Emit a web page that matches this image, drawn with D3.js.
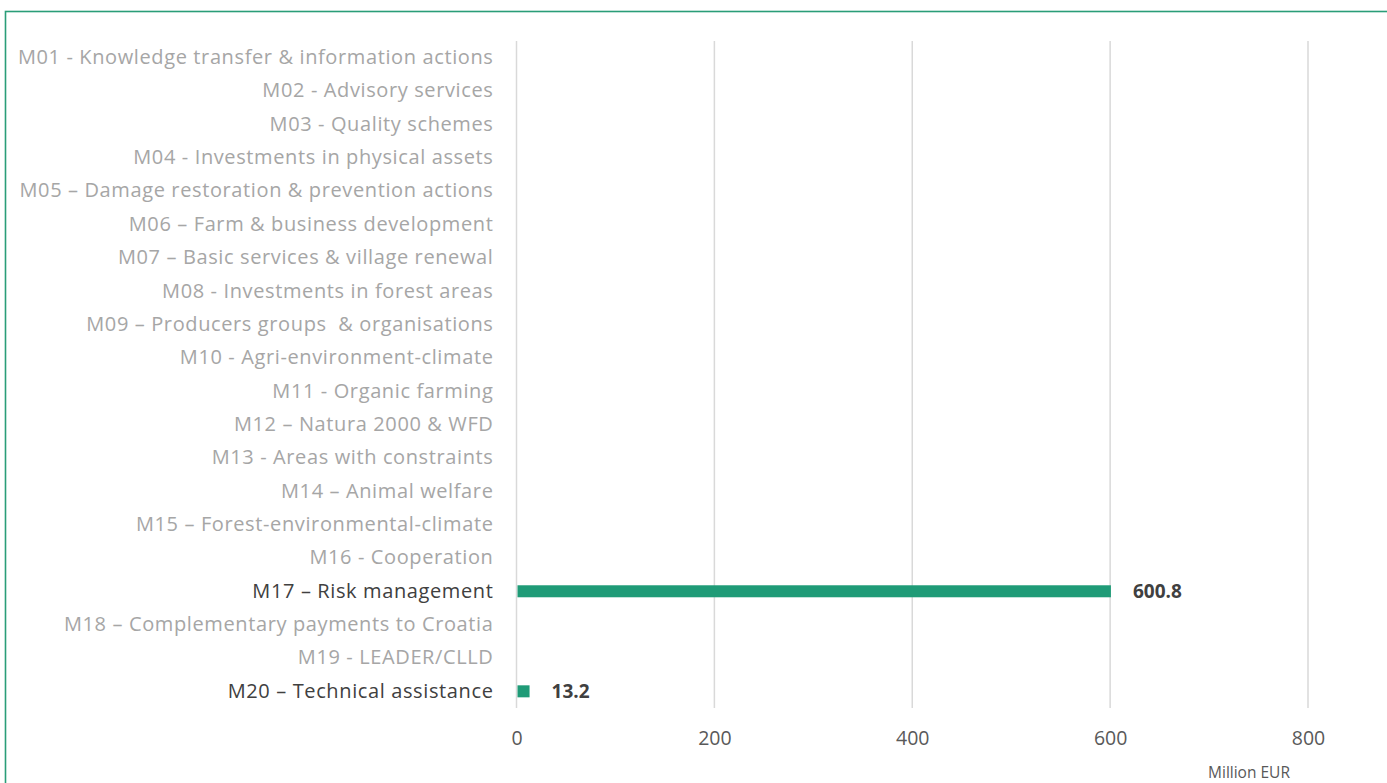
<!DOCTYPE html>
<html><head><meta charset="utf-8">
<script src="https://cdn.jsdelivr.net/npm/d3@7"></script>
<style>body{margin:0;background:#fff;}svg{display:block;}text{white-space:pre;}</style>
</head><body>
<script>
const categories = [
  "M01 - Knowledge transfer & information actions",
  "M02 - Advisory services",
  "M03 - Quality schemes",
  "M04 - Investments in physical assets",
  "M05 – Damage restoration & prevention actions",
  "M06 – Farm & business development",
  "M07 – Basic services & village renewal",
  "M08 - Investments in forest areas",
  "M09 – Producers groups  & organisations",
  "M10 - Agri-environment-climate",
  "M11 - Organic farming",
  "M12 – Natura 2000 & WFD",
  "M13 - Areas with constraints",
  "M14 – Animal welfare",
  "M15 – Forest-environmental-climate",
  "M16 - Cooperation",
  "M17 – Risk management",
  "M18 – Complementary payments to Croatia",
  "M19 - LEADER/CLLD",
  "M20 – Technical assistance"
];
const values = [0,0,0,0,0,0,0,0,0,0,0,0,0,0,0,0,600.8,0,0,13.2];
const xTicks = [0,200,400,600,800];
const axisTitle = "Million EUR";

const W = 1387, H = 783;
const svg = d3.select("body").append("svg").attr("width", W).attr("height", H);
const font = "'Open Sans', sans-serif";

svg.append("rect").attr("x",5.5).attr("y",11.5).attr("width",W+20).attr("height",H+20)
  .attr("fill","none").attr("stroke","#2a9d78").attr("stroke-width",1.6);

const x = d3.scaleLinear().domain([0,800]).range([516.5,1308]);
const y = d3.scaleBand().domain(categories).range([41,708]).paddingInner(0.64).paddingOuter(0.32);

// grid
svg.append("g").selectAll("line").data(xTicks).join("line")
  .attr("x1",d=>x(d)).attr("x2",d=>x(d)).attr("y1",41).attr("y2",708)
  .attr("stroke","#d9d9d9").attr("stroke-width",1.5);

// x axis labels
const xa = svg.append("g").attr("transform","translate(0,708)")
  .call(d3.axisBottom(x).tickValues(xTicks).tickSize(0).tickPadding(23));
xa.select(".domain").remove();
xa.selectAll("text").attr("font-family",font).attr("font-size",19.5).attr("fill","#595959");

// y labels
const ya = svg.append("g").attr("transform","translate(516.5,0)")
  .call(d3.axisLeft(y).tickSize(0).tickPadding(23));
ya.select(".domain").remove();
ya.selectAll("text").attr("font-family",font).attr("font-size",20).attr("letter-spacing",0.62)
  .attr("fill",(d,i)=>values[i]>0?"#404040":"#a6a6a6");

// bars
const barData = categories.map((c,i)=>({c,v:values[i]})).filter(d=>d.v>0);
svg.append("g").selectAll("rect").data(barData)
  .join("rect")
  .attr("x",x(0)+1).attr("y",d=>y(d.c)).attr("height",y.bandwidth())
  .attr("width",d=>x(d.v)-x(0)-1).attr("fill","#1f9b77");

// value labels
svg.append("g").selectAll("text").data(barData)
  .join("text")
  .attr("x",d=>x(d.v)+22).attr("y",d=>y(d.c)+y.bandwidth()/2).attr("dy","0.36em")
  .attr("font-family",font).attr("font-size",19).attr("font-weight","bold").attr("fill","#404040")
  .text(d=>d.v.toFixed(1));

svg.append("text").attr("x",1249).attr("y",778).attr("text-anchor","middle")
  .attr("font-family",font).attr("font-size",15.5).attr("fill","#595959").text(axisTitle);
</script>
</body></html>
